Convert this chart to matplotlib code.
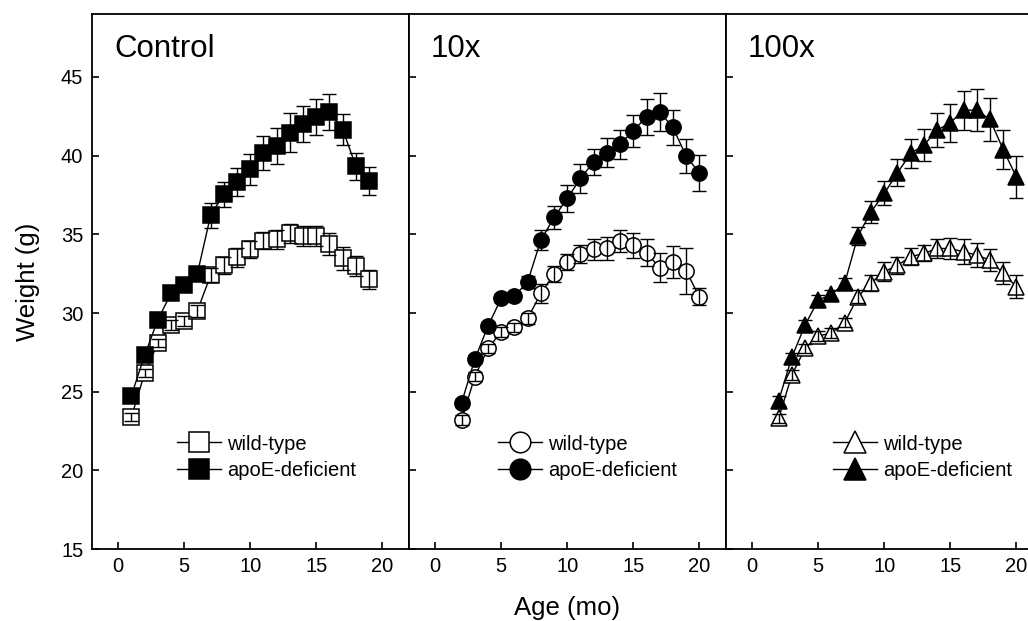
import matplotlib
matplotlib.use("Agg")
import matplotlib.pyplot as plt
import numpy as np

plt.rcParams['font.family'] = ['Liberation Sans', 'DejaVu Sans']

# ---- data ----
age_ctrl = np.arange(1, 20)
ctrl_wt = [23.37, 26.16, 28.07, 29.23, 29.5, 30.14, 32.4, 33.04, 33.53, 34.04,
           34.59, 34.68, 35.06, 34.89, 34.89, 34.38, 33.47, 32.98, 32.13]
ctrl_wt_err = [0.25, 0.25, 0.25, 0.3, 0.3, 0.37, 0.45, 0.53, 0.58, 0.56,
               0.53, 0.59, 0.61, 0.61, 0.63, 0.69, 0.72, 0.64, 0.61]
ctrl_ko = [24.74, 27.3, 29.55, 31.25, 31.77, 32.5, 36.2, 37.55, 38.34, 39.12,
           40.14, 40.6, 41.45, 42.0, 42.47, 42.78, 41.66, 39.33, 38.4]
ctrl_ko_err = [0.25, 0.25, 0.25, 0.3, 0.3, 0.4, 0.8, 0.8, 0.9, 0.97,
               1.08, 1.13, 1.23, 1.16, 1.13, 1.12, 1.0, 0.87, 0.9]

age_10 = np.arange(2, 21)
x10_wt = [23.2, 25.95, 27.75, 28.8, 29.08, 29.66, 31.24, 32.47, 33.25, 33.74,
          34.04, 34.1, 34.59, 34.31, 33.83, 32.87, 33.25, 32.68, 31.03]
x10_wt_err = [0.3, 0.3, 0.3, 0.3, 0.3, 0.35, 0.6, 0.5, 0.5, 0.58,
              0.66, 0.74, 0.69, 0.79, 0.85, 0.93, 1.02, 1.45, 0.55]
x10_ko = [24.3, 27.05, 29.17, 30.93, 31.07, 31.98, 34.63, 36.07, 37.28, 38.55,
          39.6, 40.18, 40.73, 41.58, 42.47, 42.78, 41.79, 39.97, 38.9]
x10_ko_err = [0.25, 0.25, 0.25, 0.25, 0.25, 0.4, 0.64, 0.71, 0.87, 0.93,
              0.8, 0.93, 0.92, 1.03, 1.16, 1.19, 1.12, 1.1, 1.13]

age_100 = np.arange(2, 21)
x100_wt = [23.3, 26.05, 27.75, 28.53, 28.74, 29.38, 31.03, 31.92, 32.62, 33.04,
           33.57, 33.79, 34.1, 34.1, 33.89, 33.68, 33.36, 32.52, 31.67]
x100_wt_err = [0.3, 0.3, 0.3, 0.3, 0.3, 0.3, 0.4, 0.5, 0.6, 0.53,
               0.55, 0.5, 0.61, 0.64, 0.79, 0.77, 0.72, 0.69, 0.74]
x100_ko = [24.42, 27.18, 29.23, 30.82, 31.18, 31.88, 34.89, 36.43, 37.6, 38.91,
           40.14, 40.67, 41.62, 42.09, 42.89, 42.89, 42.3, 40.39, 38.65]
x100_ko_err = [0.3, 0.3, 0.3, 0.3, 0.3, 0.35, 0.58, 0.69, 0.76, 0.87,
               0.9, 1.02, 1.1, 1.2, 1.24, 1.32, 1.38, 1.21, 1.33]

titles = ["Control", "10x", "100x"]
markers = ["s", "o", "^"]
legend_x = [0.268, 0.28, 0.338]
panels = [
    (age_ctrl, ctrl_wt, ctrl_wt_err, ctrl_ko, ctrl_ko_err),
    (age_10, x10_wt, x10_wt_err, x10_ko, x10_ko_err),
    (age_100, x100_wt, x100_wt_err, x100_ko, x100_ko_err),
]

fig = plt.figure(figsize=(10.28, 6.21), dpi=100)
left, bottom, w, h = 0.0892, 0.1159, 0.3084, 0.8615

for i, (age, wt, wt_e, ko, ko_e) in enumerate(panels):
    ax = fig.add_axes([left + i * w, bottom, w, h])
    m = markers[i]
    for y, e, fc, lab in [(wt, wt_e, "white", "wild-type"),
                          (ko, ko_e, "black", "apoE-deficient")]:
        ax.plot(age, y, color="black", lw=1, marker=m, ms=11 if m != "^" else 12,
                mfc=fc, mec="black", mew=1.1, label=lab, zorder=2)
        ax.errorbar(age, y, yerr=e, fmt="none", ecolor="black", elinewidth=1,
                    capsize=4.7, capthick=1, zorder=3)
    ax.set_xlim(-2, 22)
    ax.set_ylim(15, 49)
    ax.set_xticks([0, 5, 10, 15, 20])
    ax.set_yticks([15, 20, 25, 30, 35, 40, 45])
    ax.tick_params(direction="in", length=5, width=1.2, labelsize=14.5, pad=6)
    if i > 0:
        ax.tick_params(axis="y", labelleft=False)
    for s in ax.spines.values():
        s.set_linewidth(1.3)
    ax.text(0.07, 0.92, titles[i], transform=ax.transAxes, fontsize=22.5,
            ha="left", va="baseline")
    ax.legend(loc="upper left", bbox_to_anchor=(legend_x[i], 0.214), frameon=False,
              fontsize=14.5, numpoints=1, markerscale=1.35, handlelength=2.2,
              handletextpad=0.3, labelspacing=0.38, borderpad=0, borderaxespad=0)
    if i == 0:
        ax.set_ylabel("Weight (g)", fontsize=18.5, labelpad=15)
    if i == 1:
        ax.set_xlabel("Age (mo)", fontsize=18.5, labelpad=14)

fig.savefig("out.png", dpi=100)
